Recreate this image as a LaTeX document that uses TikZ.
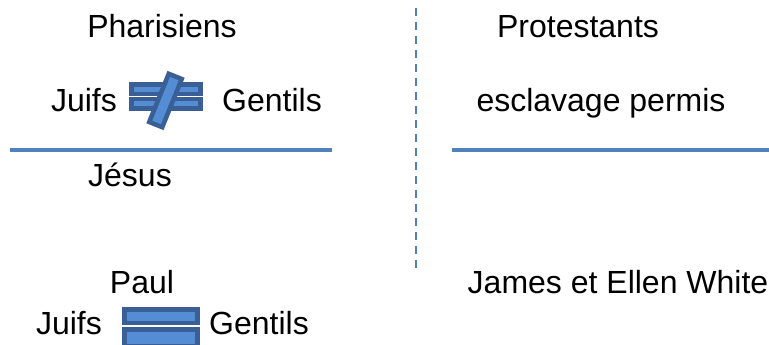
\documentclass[tikz,border=0pt]{standalone}
\usepackage{fontspec}
\setmainfont{Liberation Sans}
\usepackage{xcolor}
\definecolor{rulecol}{RGB}{79,129,189}
\definecolor{signdark}{RGB}{58,95,150}
\definecolor{signfill}{RGB}{84,141,212}

\begin{document}
\begin{tikzpicture}[
x=0.75pt, y=-0.75pt,
word/.style={
    font=\fontsize{24}{28}\selectfont,
    inner sep=0pt,
    anchor=base
},
rule/.style={
    draw=rulecol,
    line width=3pt
},
divider/.style={
    draw=rulecol,
    line width=2pt,
    dash pattern=on 6pt off 4.5pt
},
bar/.style={
    fill=signfill,
    draw=signdark,
    line width=3.4pt
}
]
\useasboundingbox (0,0) rectangle (769,345);

% Left side
\node[word] (pharisiens) at (162,38) {Pharisiens};
\node[word] (juifsA) at (84,112) {Juifs};
\node[word] (gentilsA) at (272,112) {Gentils};

% not equal sign
\draw[bar] (131.3,84.3) rectangle (200.7,94);
\draw[bar] (131.3,99) rectangle (200.7,108.7);
\draw[bar] (181.75,79) -- (168.75,73.8) -- (149.25,122) -- (162.25,127.2) -- cycle;

\coordinate (ruleAw) at (10,150);
\coordinate (ruleAe) at (332,150);
\draw[rule] (ruleAw) -- (ruleAe);

\node[word] (jesus) at (130,187) {Jésus};

\node[word] (paul) at (142,294) {Paul};
\node[word] (juifsB) at (69,335) {Juifs};
\node[word] (gentilsB) at (259,335) {Gentils};

% equal sign
\draw[bar] (124.3,309.3) rectangle (197.7,323);
\draw[bar] (124.3,329.3) rectangle (197.7,346);

% Divider
\coordinate (divtop) at (416,8);
\coordinate (divbot) at (416,268);
\draw[divider] (divtop) -- (divbot);

% Right side
\node[word] (protestants) at (578,38) {Protestants};
\node[word] (esclavage) at (601,112) {esclavage permis};

\coordinate (ruleBw) at (452,150);
\coordinate (ruleBe) at (769,150);
\draw[rule] (ruleBw) -- (ruleBe);

\node[word] (white) at (618,294) {James et Ellen White};

\end{tikzpicture}
\end{document}
